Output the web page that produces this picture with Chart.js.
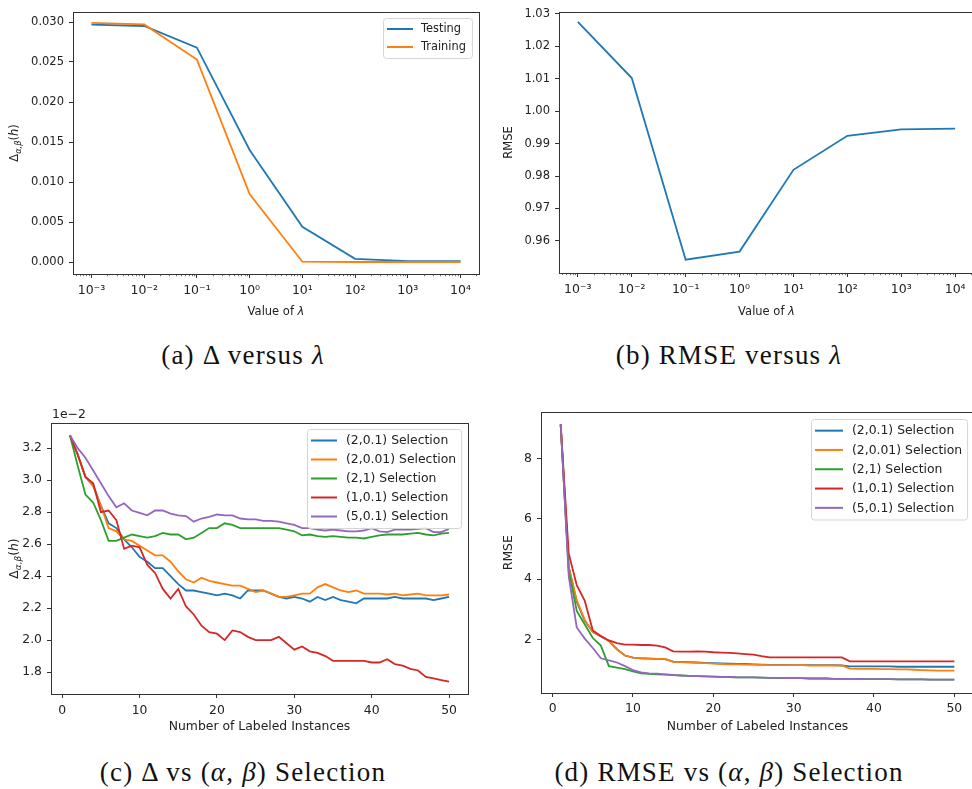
<!DOCTYPE html>
<html>
<head>
  <meta charset="utf-8">
  <title>Delta / RMSE versus lambda and (alpha, beta) selection</title>
  <script src="https://cdn.jsdelivr.net/npm/chart.js"></script>
  <style>
    html, body { margin: 0; padding: 0; background: #fff; overflow: hidden; }
    #page { position: relative; width: 972px; height: 789px; }
    canvas { position: absolute; }
    .cap { position: absolute; width: 486px; text-align: center; line-height: 30px;
           font-family: 'Liberation Serif', serif; font-size: 27px; color: #111; letter-spacing: 1.2px; }
  </style>
</head>
<body>
<div id="page">
  <canvas id="chartA" width="486" height="330" style="left:0;top:0"></canvas>
  <canvas id="chartB" width="490" height="330" style="left:486px;top:0"></canvas>
  <canvas id="chartC" width="486" height="340" style="left:0;top:400px"></canvas>
  <canvas id="chartD" width="490" height="340" style="left:486px;top:400px"></canvas>
  <div class="cap" style="left:0;top:340px">(a) Δ versus <i>λ</i></div>
  <div class="cap" style="left:486px;top:340px">(b) RMSE versus <i>λ</i></div>
  <div class="cap" style="left:0;top:757px">(c) Δ vs (<i>α</i>, <i>β</i>) Selection</div>
  <div class="cap" style="left:486px;top:757px">(d) RMSE vs (<i>α</i>, <i>β</i>) Selection</div>
</div>

<script>
  // ---- panel (a) / (b): sweep over lambda
  const lambdaValues  = [0.001, 0.01, 0.1, 1, 10, 100, 1000, 10000];
  const deltaTesting  = [0.02966, 0.0295, 0.0268, 0.0140, 0.0044, 0.0004, 0.0001, 0.0001];
  const deltaTraining = [0.0299, 0.0297, 0.0253, 0.0085, 0.00004, 0.0000, 0.0000, 0.0000];
  const rmseLambda    = [1.0275, 1.0102, 0.9542, 0.9567, 0.9819, 0.9924, 0.9944, 0.9946];

  const deltaTicks = [0, 0.005, 0.010, 0.015, 0.020, 0.025, 0.030];
  const rmseLambdaTicks = [0.96, 0.97, 0.98, 0.99, 1.00, 1.01, 1.02, 1.03];

  // ---- panel (c) / (d): number of labeled instances
  const instances = [1,2,3,4,5,6,7,8,9,10,11,12,13,14,15,16,17,18,19,20,21,22,23,24,25,
                     26,27,28,29,30,31,32,33,34,35,36,37,38,39,40,41,42,43,44,45,46,47,48,49,50];
  const selLabels = ['(2,0.1) Selection', '(2,0.01) Selection', '(2,1) Selection', '(1,0.1) Selection', '(5,0.1) Selection'];

  // delta values, in units of 1e-2
  const delta2_01 = [3.28,3.16,3.02,2.97,2.84,2.73,2.70,2.63,2.58,2.52, 2.49,2.45,2.45,2.40,2.35,2.31,2.31,2.30,2.29,2.28,
                     2.29,2.28,2.26,2.31,2.31,2.31,2.29,2.27,2.26,2.27, 2.26,2.24,2.27,2.25,2.27,2.25,2.24,2.23,2.26,2.26,
                     2.26,2.26,2.27,2.26,2.26,2.26,2.26,2.25,2.26,2.27];
  const delta2_001 = [3.28,3.16,3.02,2.96,2.84,2.70,2.68,2.63,2.62,2.59, 2.56,2.53,2.53,2.49,2.43,2.38,2.36,2.39,2.37,2.36,
                      2.35,2.34,2.34,2.32,2.30,2.31,2.29,2.27,2.27,2.28, 2.29,2.29,2.33,2.35,2.33,2.31,2.30,2.31,2.29,2.29,
                      2.29,2.285,2.29,2.28,2.285,2.29,2.28,2.28,2.28,2.285];
  const delta2_1 = [3.28,3.09,2.91,2.86,2.75,2.62,2.62,2.64,2.66,2.65, 2.64,2.65,2.67,2.66,2.66,2.63,2.64,2.67,2.70,2.70,
                    2.73,2.72,2.70,2.70,2.70,2.70,2.70,2.70,2.69,2.68, 2.655,2.66,2.65,2.645,2.65,2.645,2.64,2.64,2.635,2.645,
                    2.655,2.66,2.66,2.66,2.665,2.67,2.66,2.655,2.665,2.67];
  const delta1_01 = [3.28,3.16,3.02,2.98,2.80,2.81,2.75,2.57,2.59,2.58, 2.47,2.42,2.32,2.26,2.32,2.21,2.16,2.09,2.05,2.04,
                     2.00,2.06,2.05,2.02,2.00,2.00,2.00,2.02,1.98,1.94, 1.96,1.93,1.92,1.90,1.87,1.87,1.87,1.87,1.87,1.86,
                     1.86,1.88,1.85,1.84,1.82,1.81,1.77,1.76,1.75,1.74];
  const delta5_01 = [3.28,3.20,3.14,3.06,2.98,2.90,2.83,2.855,2.81,2.795, 2.78,2.81,2.81,2.79,2.78,2.775,2.74,2.76,2.77,2.785,
                     2.78,2.78,2.76,2.755,2.755,2.745,2.745,2.74,2.73,2.72, 2.70,2.70,2.69,2.685,2.69,2.685,2.68,2.68,2.685,2.70,
                     2.68,2.675,2.69,2.69,2.69,2.695,2.70,2.675,2.675,2.695];

  const rmse2_01 = [9.12,4.40,3.25,2.62,2.25,2.10,1.95,1.68,1.47,1.40, 1.38,1.37,1.36,1.35,1.27,1.26,1.25,1.24,1.23,1.22,
                    1.21,1.20,1.19,1.19,1.18,1.17,1.16,1.16,1.16,1.15, 1.15,1.15,1.15,1.15,1.15,1.14,1.11,1.11,1.11,1.11,
                    1.11,1.11,1.10,1.10,1.10,1.10,1.10,1.10,1.10,1.10];
  const rmse2_001 = [9.12,4.40,3.30,2.65,2.25,2.12,1.95,1.68,1.47,1.40, 1.38,1.37,1.36,1.36,1.26,1.25,1.24,1.23,1.22,1.20,
                     1.19,1.18,1.18,1.17,1.17,1.16,1.15,1.15,1.15,1.15, 1.15,1.14,1.14,1.14,1.14,1.14,1.04,1.03,1.03,1.03,
                     1.02,1.02,1.01,1.01,1.00,0.99,0.98,0.97,0.97,0.97];
  const rmse2_1 = [9.12,4.30,2.95,2.50,2.05,1.80,1.12,1.07,1.02,0.95, 0.88,0.86,0.85,0.84,0.82,0.81,0.80,0.79,0.78,0.77,
                   0.76,0.76,0.75,0.75,0.75,0.74,0.73,0.73,0.72,0.72, 0.72,0.71,0.71,0.71,0.70,0.70,0.70,0.70,0.69,0.69,
                   0.69,0.69,0.68,0.68,0.68,0.68,0.67,0.67,0.67,0.67];
  const rmse1_01 = [9.12,4.85,3.80,3.28,2.30,2.12,1.97,1.88,1.83,1.83, 1.82,1.82,1.80,1.74,1.61,1.60,1.60,1.61,1.60,1.58,
                    1.57,1.56,1.54,1.52,1.50,1.45,1.41,1.41,1.41,1.41, 1.41,1.41,1.41,1.41,1.41,1.41,1.28,1.28,1.28,1.28,
                    1.28,1.28,1.28,1.28,1.28,1.28,1.28,1.28,1.28,1.28];
  const rmse5_01 = [9.12,4.10,2.40,2.03,1.72,1.38,1.31,1.24,1.12,0.99, 0.91,0.88,0.87,0.85,0.83,0.81,0.80,0.79,0.78,0.77,
                    0.76,0.76,0.75,0.75,0.75,0.74,0.73,0.73,0.72,0.72, 0.72,0.71,0.71,0.71,0.70,0.70,0.70,0.70,0.69,0.69,
                    0.69,0.69,0.68,0.68,0.68,0.68,0.67,0.67,0.67,0.67];

  const instanceTicks = [0, 10, 20, 30, 40, 50];
  const deltaSelTicks = [1.8, 2.0, 2.2, 2.4, 2.6, 2.8, 3.0, 3.2];
  const rmseSelTicks  = [2, 4, 6, 8];

  const colors = ['#1f77b4', '#ff7f0e', '#2ca02c', '#d62728', '#9467bd'];
  const FONT = 'DejaVu Sans';
  const INK = '#222';
  const SPINE = '#333';

  Chart.defaults.font.family = FONT;
  Chart.defaults.color = INK;
  Chart.defaults.animation = false;

  const supMap = { '-': '⁻', '0': '⁰', '1': '¹', '2': '²', '3': '³', '4': '⁴', '5': '⁵' };
  function powLabel(v) {
    const e = String(Math.round(Math.log10(v)));
    return '10' + e.split('').map(c => supMap[c]).join('');
  }

  function fontFor(p, size) {
    return (p.it ? 'italic ' : '') + (p.sub ? size * 0.72 : size) + 'px "' + FONT + '"';
  }
  // mixed text (italic / subscript pieces), centred on (cx, cy)
  function drawRich(ctx, parts, cx, cy, rot, size) {
    ctx.save();
    ctx.translate(cx, cy);
    ctx.rotate(rot);
    let total = 0;
    const widths = parts.map(p => { ctx.font = fontFor(p, size); const w = ctx.measureText(p.t).width; total += w; return w; });
    let x = -total / 2;
    ctx.fillStyle = INK;
    ctx.textBaseline = 'middle';
    parts.forEach((p, i) => {
      ctx.font = fontFor(p, size);
      ctx.fillText(p.t, x, p.sub ? size * 0.3 : 0);
      x += widths[i];
    });
    ctx.restore();
  }

  const frame = {
    id: 'frame',
    afterDraw(chart) {
      const { left, top, right, bottom } = chart.chartArea;
      const ctx = chart.ctx;
      ctx.save();
      ctx.strokeStyle = SPINE;
      ctx.lineWidth = 1;
      ctx.strokeRect(Math.round(left) + 0.5, Math.round(top) + 0.5, Math.round(right - left), Math.round(bottom - top));
      ctx.restore();
    }
  };

  const minorTicks = {
    id: 'minorTicks',
    afterDraw(chart) {
      const sc = chart.scales.x;
      if (sc.type !== 'logarithmic') return;
      const ctx = chart.ctx, y0 = chart.chartArea.bottom;
      ctx.save();
      ctx.strokeStyle = SPINE;
      ctx.lineWidth = 0.7;
      for (let e = -4; e <= 4; e++) {
        for (let k = 2; k <= 9; k++) {
          const v = k * Math.pow(10, e);
          if (v < sc.min || v > sc.max) continue;
          const px = Math.round(sc.getPixelForValue(v)) + 0.5;
          ctx.beginPath(); ctx.moveTo(px, y0); ctx.lineTo(px, y0 + 2.2); ctx.stroke();
        }
      }
      ctx.restore();
    }
  };

  const richText = {
    id: 'richText',
    afterDraw(chart, args, o) {
      const ca = chart.chartArea, ctx = chart.ctx;
      if (o.yParts) drawRich(ctx, o.yParts, o.yX, (ca.top + ca.bottom) / 2, -Math.PI / 2, o.size);
      if (o.xParts) drawRich(ctx, o.xParts, (ca.left + ca.right) / 2, o.xY, 0, o.size);
      if (o.offsetText) {
        ctx.save();
        ctx.font = o.size + 'px "' + FONT + '"';
        ctx.fillStyle = INK;
        ctx.textBaseline = 'middle';
        ctx.fillText(o.offsetText, ca.left + 1, o.offsetY);
        ctx.restore();
      }
    }
  };

  const boxLegend = {
    id: 'boxLegend',
    afterDraw(chart, args, o) {
      if (!o.size) return;
      const ctx = chart.ctx, ca = chart.chartArea;
      const sets = chart.data.datasets;
      ctx.save();
      ctx.font = o.size + 'px "' + FONT + '"';
      const tw = Math.max(...sets.map(d => ctx.measureText(d.label).width));
      const w = o.padL + o.handle + o.gap + tw + o.padR;
      const h = sets.length * o.rowH + 4;
      const x0 = Math.round(ca.right - o.right - w), y0 = Math.round(ca.top + o.top);
      ctx.beginPath();
      ctx.roundRect(x0 + 0.5, y0 + 0.5, w, h, 3);
      ctx.fillStyle = 'rgba(255,255,255,0.8)';
      ctx.fill();
      ctx.strokeStyle = '#d4d4d4';
      ctx.lineWidth = 1;
      ctx.stroke();
      sets.forEach((d, i) => {
        const cy = y0 + 2 + o.rowH * (i + 0.5);
        ctx.strokeStyle = d.borderColor;
        ctx.lineWidth = 2;
        ctx.beginPath();
        ctx.moveTo(x0 + o.padL, cy);
        ctx.lineTo(x0 + o.padL + o.handle, cy);
        ctx.stroke();
        ctx.fillStyle = INK;
        ctx.textBaseline = 'middle';
        ctx.fillText(d.label, x0 + o.padL + o.handle + o.gap, cy + 0.5);
      });
      ctx.restore();
    }
  };

  const tickGrid = { display: true, drawOnChartArea: false, drawTicks: true, tickLength: 4, tickColor: SPINE, tickWidth: 1 };

  function series(label, color, xs, ys, i, n) {
    return {
      label: label,
      data: xs.map((x, k) => ({ x: x, y: ys[k] })),
      borderColor: color,
      backgroundColor: color,
      borderWidth: 1.8,
      pointRadius: 0,
      tension: 0,
      fill: false,
      order: n - i
    };
  }

  function axis(opt) {
    const s = {
      type: opt.type || 'linear',
      min: opt.min,
      max: opt.max,
      bounds: 'data',
      afterBuildTicks: sc => { sc.ticks = opt.ticks.map(v => ({ value: v })); },
      ticks: { autoSkip: false, maxRotation: 0, padding: opt.pad, font: { size: opt.size }, color: INK, callback: opt.fmt },
      grid: tickGrid,
      border: { display: false }
    };
    if (opt.width) s.afterFit = sc => { sc.width = opt.width; };
    if (opt.height) s.afterFit = sc => { sc.height = opt.height; };
    if (opt.title) s.title = opt.title;
    return s;
  }

  function makeChart(id, datasets, scales, padding, pluginOpts) {
    return new Chart(document.getElementById(id), {
      type: 'line',
      data: { datasets: datasets },
      options: {
        responsive: false,
        devicePixelRatio: 1,
        parsing: true,
        layout: { padding: padding },
        scales: scales,
        plugins: Object.assign({ legend: { display: false }, tooltip: { enabled: false } }, pluginOpts)
      },
      plugins: [frame, minorTicks, richText, boxLegend]
    });
  }

  window.onload = () => {
    const deltaY = [{ t: 'Δ' }, { t: 'α,β', it: true, sub: true }, { t: '(' }, { t: 'h', it: true }, { t: ')' }];
    const lamX = [{ t: 'Value of ' }, { t: 'λ', it: true }];

    // (a)
    makeChart('chartA',
      [series('Testing', colors[0], lambdaValues, deltaTesting, 0, 2),
       series('Training', colors[1], lambdaValues, deltaTraining, 1, 2)],
      {
        x: axis({ type: 'logarithmic', min: Math.pow(10, -3.35), max: Math.pow(10, 4.35), ticks: lambdaValues,
                  fmt: v => powLabel(v), pad: 5, size: 12.5, height: 56 }),
        y: axis({ min: -0.0015, max: 0.03125, ticks: deltaTicks, fmt: v => v.toFixed(3), pad: 5, size: 11.5, width: 73 })
      },
      { top: 12, right: 7, left: 0, bottom: 0 },
      {
        richText: { yParts: deltaY, yX: 15, xParts: lamX, xY: 312, size: 11.5 },
        boxLegend: { size: 11.4, rowH: 18, padL: 4, handle: 26, gap: 8, padR: 6, right: 7, top: 6 }
      });

    // (b)
    makeChart('chartB',
      [series('RMSE', colors[0], lambdaValues, rmseLambda, 0, 1)],
      {
        x: axis({ type: 'logarithmic', min: Math.pow(10, -3.35), max: Math.pow(10, 4.35), ticks: lambdaValues,
                  fmt: v => powLabel(v), pad: 5, size: 12.5, height: 57 }),
        y: axis({ min: 0.9501, max: 1.0306, ticks: rmseLambdaTicks, fmt: v => v.toFixed(2), pad: 5, size: 11.5, width: 73,
                  title: { display: true, text: 'RMSE', font: { size: 11.5 }, color: INK, padding: { top: 16, bottom: 0 } } })
      },
      { top: 4, right: 2, left: 0, bottom: 0 },
      { richText: { xParts: lamX, xY: 312, size: 11.5 } });

    const dSets = [delta2_01, delta2_001, delta2_1, delta1_01, delta5_01];
    const rSets = [rmse2_01, rmse2_001, rmse2_1, rmse1_01, rmse5_01];
    const instTitle = { display: true, text: 'Number of Labeled Instances', font: { size: 12.4 }, color: INK, padding: { top: 0, bottom: 5.6 } };

    // (c)
    makeChart('chartC',
      dSets.map((ys, i) => series(selLabels[i], colors[i], instances, ys, i, 5)),
      {
        x: axis({ min: -1.45, max: 52.45, ticks: instanceTicks, fmt: v => String(v), pad: 5, size: 12.4, height: 46, title: instTitle }),
        y: axis({ min: 1.663, max: 3.357, ticks: deltaSelTicks, fmt: v => v.toFixed(1), pad: 5, size: 12.4, width: 51 })
      },
      { top: 23, right: 18, left: 0, bottom: 0 },
      {
        richText: { yParts: deltaY, yX: 15, offsetText: '1e\u22122', offsetY: 15, size: 12.4 },
        boxLegend: { size: 12.4, rowH: 19, padL: 4, handle: 26, gap: 9, padR: 5, right: 7, top: 6 }
      });

    // (d)
    makeChart('chartD',
      rSets.map((ys, i) => series(selLabels[i], colors[i], instances, ys, i, 5)),
      {
        x: axis({ min: -1.45, max: 52.45, ticks: instanceTicks, fmt: v => String(v), pad: 4, size: 12.4, height: 47,
                  title: Object.assign({}, instTitle, { padding: { top: 0, bottom: 5.8 } }) }),
        y: axis({ min: 0.23, max: 9.52, ticks: rmseSelTicks, fmt: v => String(v), pad: 5, size: 12.4, width: 55,
                  title: { display: true, text: 'RMSE', font: { size: 12.4 }, color: INK, padding: { top: 15.6, bottom: 0 } } })
      },
      { top: 10, right: 2, left: 0, bottom: 0 },
      { boxLegend: { size: 12.4, rowH: 19.3, padL: 4, handle: 28, gap: 9, padR: 5, right: 7, top: 7 } });
  };
</script>
</body>
</html>
